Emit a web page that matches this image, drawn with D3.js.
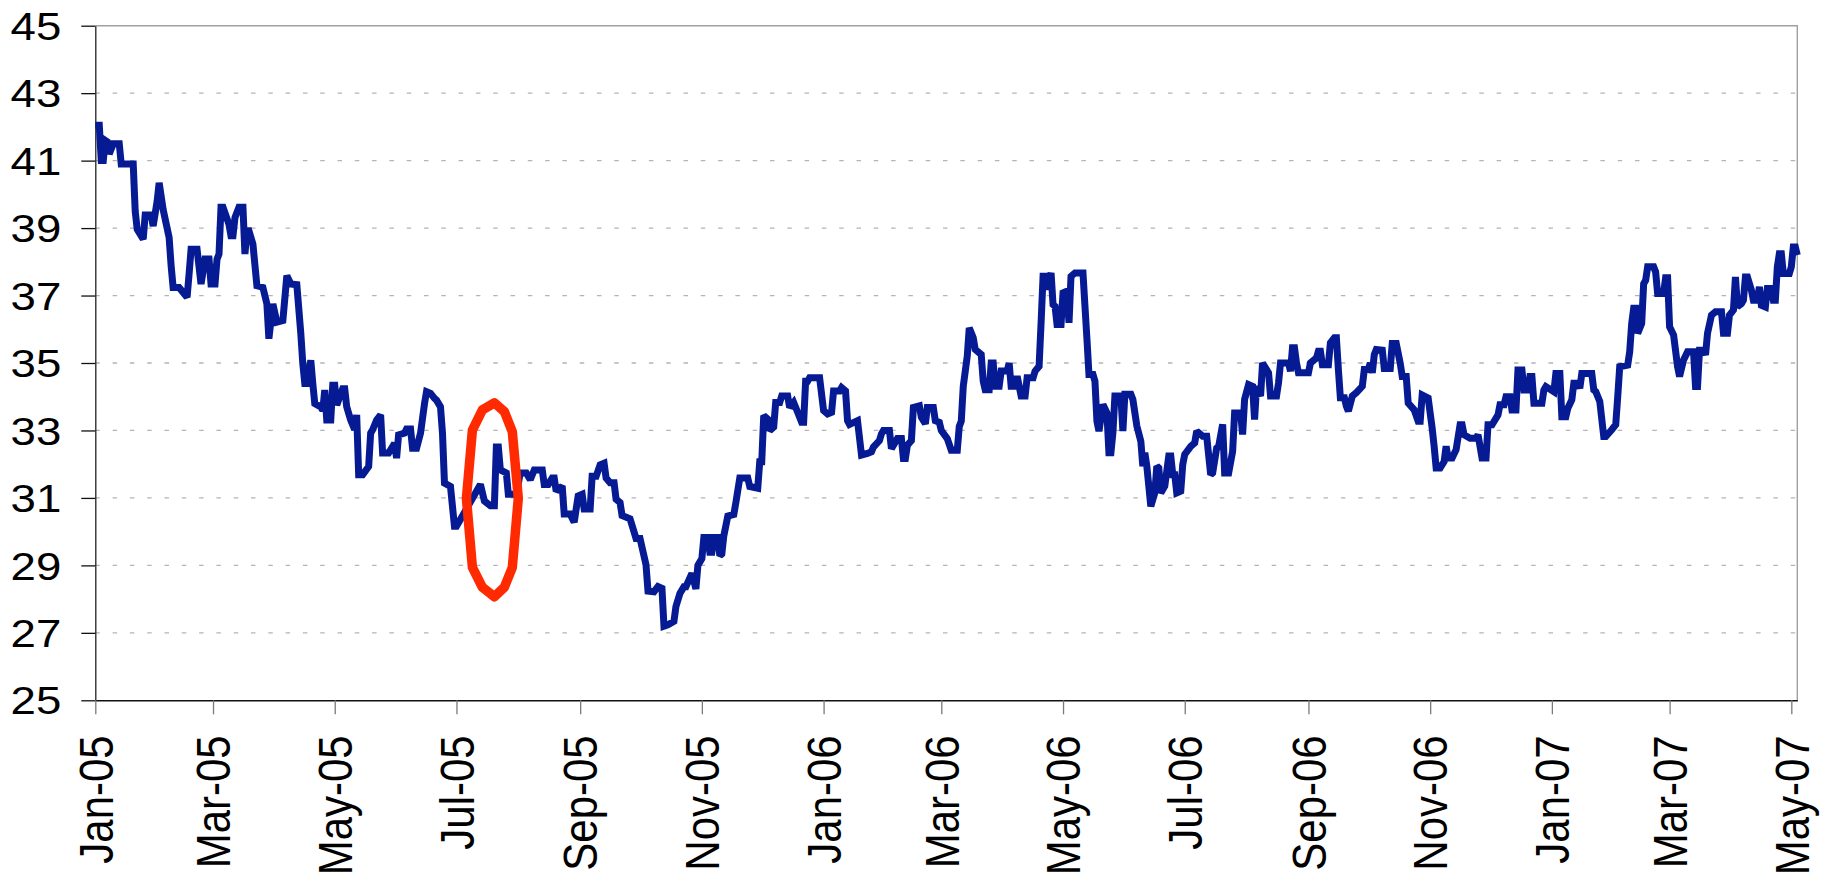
<!DOCTYPE html>
<html>
<head>
<meta charset="utf-8">
<script src="https://cdn.jsdelivr.net/npm/d3@7"></script>
<style>
  body { margin: 0; background: #fff; }
  #wrapper { width: 1829px; height: 885px; }
  text { font-family: "Liberation Sans", Arial, sans-serif; fill: #000; }
</style>
</head>
<body>
<div id="wrapper"></div>
<script>
// data, one line per month

const dates = [
  "2005-01-01","2005-01-03","2005-01-04","2005-01-05","2005-01-06","2005-01-07","2005-01-08","2005-01-10","2005-01-13","2005-01-14","2005-01-20","2005-01-21","2005-01-22","2005-01-25","2005-01-26","2005-01-29","2005-01-30",
  "2005-02-01","2005-02-02","2005-02-04","2005-02-07","2005-02-08","2005-02-09","2005-02-12","2005-02-16","2005-02-17","2005-02-18","2005-02-21","2005-02-23","2005-02-25","2005-02-27","2005-02-28",
  "2005-03-02","2005-03-03","2005-03-04","2005-03-05","2005-03-06","2005-03-09","2005-03-10","2005-03-11","2005-03-12","2005-03-14","2005-03-16","2005-03-17","2005-03-18","2005-03-19","2005-03-21","2005-03-23","2005-03-26","2005-03-28","2005-03-29","2005-03-31",
  "2005-04-02","2005-04-05","2005-04-07","2005-04-09","2005-04-12","2005-04-14","2005-04-15","2005-04-16","2005-04-17","2005-04-19","2005-04-20","2005-04-21","2005-04-24","2005-04-25","2005-04-26","2005-04-27","2005-04-29","2005-04-30",
  "2005-05-01","2005-05-02","2005-05-05","2005-05-06","2005-05-07","2005-05-09","2005-05-11","2005-05-12","2005-05-13","2005-05-15","2005-05-18","2005-05-19","2005-05-20","2005-05-22","2005-05-24","2005-05-25","2005-05-28","2005-05-31",
  "2005-06-01","2005-06-02","2005-06-05","2005-06-06","2005-06-08","2005-06-09","2005-06-11","2005-06-13","2005-06-15","2005-06-16","2005-06-18","2005-06-20","2005-06-21","2005-06-23","2005-06-24","2005-06-25","2005-06-28","2005-06-30",
  "2005-07-01","2005-07-05","2005-07-13","2005-07-15","2005-07-18","2005-07-20","2005-07-21","2005-07-22","2005-07-23","2005-07-26","2005-07-27","2005-07-31",
  "2005-08-02","2005-08-05","2005-08-07","2005-08-09","2005-08-13","2005-08-14","2005-08-16","2005-08-18","2005-08-19","2005-08-20","2005-08-23","2005-08-24","2005-08-27","2005-08-29","2005-08-31",
  "2005-09-02","2005-09-03","2005-09-06","2005-09-07","2005-09-09","2005-09-11","2005-09-13","2005-09-14","2005-09-16","2005-09-18","2005-09-19","2005-09-21","2005-09-22","2005-09-26","2005-09-29",
  "2005-10-01","2005-10-04","2005-10-05","2005-10-08","2005-10-10","2005-10-12","2005-10-13","2005-10-15","2005-10-18","2005-10-19","2005-10-21","2005-10-23","2005-10-24","2005-10-27","2005-10-29","2005-10-30",
  "2005-11-01","2005-11-02","2005-11-04","2005-11-05","2005-11-06","2005-11-07","2005-11-09","2005-11-10","2005-11-11","2005-11-12","2005-11-14","2005-11-17","2005-11-18","2005-11-20","2005-11-24","2005-11-25","2005-11-29","2005-11-30",
  "2005-12-01","2005-12-02","2005-12-04","2005-12-05","2005-12-07","2005-12-08","2005-12-10","2005-12-11","2005-12-14","2005-12-15","2005-12-17","2005-12-19","2005-12-21","2005-12-22","2005-12-23","2005-12-24","2005-12-25","2005-12-30",
  "2006-01-01","2006-01-03","2006-01-05","2006-01-06","2006-01-09","2006-01-10","2006-01-12","2006-01-13","2006-01-14","2006-01-18","2006-01-20","2006-01-23","2006-01-25","2006-01-26","2006-01-29","2006-01-30","2006-01-31",
  "2006-02-03","2006-02-04","2006-02-07","2006-02-09","2006-02-10","2006-02-11","2006-02-12","2006-02-14","2006-02-15","2006-02-18","2006-02-19","2006-02-21","2006-02-22","2006-02-25","2006-02-26","2006-02-28",
  "2006-03-01","2006-03-04","2006-03-06","2006-03-09","2006-03-10","2006-03-11","2006-03-12","2006-03-14","2006-03-15","2006-03-17","2006-03-18","2006-03-21","2006-03-22","2006-03-23","2006-03-25","2006-03-26","2006-03-27","2006-03-28","2006-03-30","2006-03-31",
  "2006-04-03","2006-04-04","2006-04-05","2006-04-07","2006-04-08","2006-04-10","2006-04-12","2006-04-13","2006-04-16","2006-04-17","2006-04-19","2006-04-20","2006-04-21","2006-04-22","2006-04-23","2006-04-25","2006-04-26","2006-04-27","2006-04-28","2006-04-30",
  "2006-05-01","2006-05-03","2006-05-04","2006-05-05","2006-05-07","2006-05-11","2006-05-12","2006-05-13","2006-05-14","2006-05-16","2006-05-17","2006-05-18","2006-05-19","2006-05-21","2006-05-23","2006-05-24","2006-05-25","2006-05-26","2006-05-27","2006-05-30","2006-05-31",
  "2006-06-01","2006-06-04","2006-06-05","2006-06-07","2006-06-09","2006-06-10","2006-06-11","2006-06-12","2006-06-14","2006-06-16","2006-06-17","2006-06-18","2006-06-19","2006-06-21","2006-06-23","2006-06-24","2006-06-25","2006-06-26","2006-06-27","2006-06-29","2006-06-30",
  "2006-07-01","2006-07-04","2006-07-06","2006-07-07","2006-07-10","2006-07-12","2006-07-14","2006-07-15","2006-07-17","2006-07-18","2006-07-20","2006-07-21","2006-07-23","2006-07-25","2006-07-26","2006-07-29","2006-07-30","2006-07-31",
  "2006-08-02","2006-08-04","2006-08-05","2006-08-06","2006-08-08","2006-08-09","2006-08-12","2006-08-13","2006-08-16","2006-08-17","2006-08-18","2006-08-22","2006-08-23","2006-08-24","2006-08-25","2006-08-26","2006-08-27",
  "2006-09-01","2006-09-02","2006-09-05","2006-09-06","2006-09-07","2006-09-08","2006-09-11","2006-09-12","2006-09-14","2006-09-15","2006-09-16","2006-09-17","2006-09-19","2006-09-20","2006-09-21","2006-09-23","2006-09-25","2006-09-28","2006-09-29",
  "2006-10-01","2006-10-02","2006-10-03","2006-10-04","2006-10-05","2006-10-08","2006-10-09","2006-10-12","2006-10-13","2006-10-15","2006-10-17","2006-10-18","2006-10-20","2006-10-21","2006-10-24","2006-10-26","2006-10-27","2006-10-28","2006-10-31",
  "2006-11-02","2006-11-03","2006-11-04","2006-11-06","2006-11-08","2006-11-09","2006-11-10","2006-11-12","2006-11-14","2006-11-16","2006-11-17","2006-11-18","2006-11-21","2006-11-24","2006-11-25","2006-11-27","2006-11-29","2006-11-30",
  "2006-12-02","2006-12-05","2006-12-06","2006-12-08","2006-12-09","2006-12-11","2006-12-12","2006-12-14","2006-12-15","2006-12-17","2006-12-18","2006-12-20","2006-12-21","2006-12-22","2006-12-23","2006-12-27","2006-12-28","2006-12-29",
  "2007-01-02","2007-01-03","2007-01-05","2007-01-06","2007-01-08","2007-01-09","2007-01-11","2007-01-12","2007-01-14","2007-01-15","2007-01-16","2007-01-21","2007-01-22","2007-01-23","2007-01-25","2007-01-27","2007-01-28","2007-01-31",
  "2007-02-02","2007-02-03","2007-02-04","2007-02-08","2007-02-09","2007-02-10","2007-02-11","2007-02-12","2007-02-13","2007-02-15","2007-02-16","2007-02-17","2007-02-18","2007-02-21","2007-02-22","2007-02-23","2007-02-26","2007-02-27","2007-02-28",
  "2007-03-01","2007-03-03","2007-03-05","2007-03-06","2007-03-08","2007-03-10","2007-03-13","2007-03-14","2007-03-15","2007-03-16","2007-03-18","2007-03-19","2007-03-20","2007-03-22","2007-03-24","2007-03-27","2007-03-28","2007-03-30","2007-03-31",
  "2007-04-02","2007-04-03","2007-04-04","2007-04-06","2007-04-07","2007-04-08","2007-04-09","2007-04-11","2007-04-12","2007-04-14","2007-04-15","2007-04-16","2007-04-18","2007-04-19","2007-04-21","2007-04-22","2007-04-23","2007-04-24","2007-04-25","2007-04-26","2007-04-27","2007-04-30",
  "2007-05-01","2007-05-02","2007-05-03","2007-05-04"
];

const prices = [
  42.05,42.05,41.0,41.0,41.6,41.56,41.2,41.5,41.5,40.9,40.9,39.5,38.96,38.67,39.39,39.39,39.06,
  39.8,40.34,39.55,38.72,37.88,37.24,37.24,36.95,37.64,38.37,38.37,37.34,38.08,38.08,37.34,
  37.34,38.08,38.23,39.62,39.62,39.11,38.77,38.77,39.31,39.62,39.62,38.23,38.92,38.92,38.52,37.29,37.24,36.75,35.72,36.75,
  36.21,36.26,37.59,37.34,37.32,35.87,34.98,34.39,34.39,35.08,34.39,33.8,33.7,33.6,34.2,33.31,33.31,34.34,
  34.34,33.75,34.24,34.24,33.7,33.31,33.02,33.46,31.69,31.69,31.93,32.92,33.02,33.31,33.46,32.33,32.33,32.62,
  32.18,32.87,32.92,33.04,33.04,32.47,32.47,32.92,33.8,34.15,34.1,33.95,33.9,33.7,32.92,31.44,31.34,30.16,
  30.16,30.57,31.4,30.91,30.77,30.77,32.51,32.51,31.83,31.74,31.11,31.11,
  31.74,31.74,31.54,31.83,31.83,31.4,31.4,31.59,31.59,31.2,31.35,30.52,30.52,30.28,31.06,
  31.11,30.67,30.67,31.64,31.64,31.98,32.03,31.59,31.45,31.45,30.96,30.86,30.48,30.38,29.8,
  29.8,29.02,28.24,28.22,28.37,28.32,27.2,27.24,27.34,27.78,28.17,28.37,28.37,28.76,28.3,29.0,
  29.2,29.83,29.83,29.39,29.39,29.83,29.83,29.29,29.34,29.88,30.46,30.51,30.85,31.59,31.59,31.34,31.29,32.07,
  32.07,33.44,33.34,33.0,33.1,33.83,33.83,34.02,34.02,33.68,33.83,33.54,33.24,33.24,34.46,34.46,34.56,34.56,
  33.59,33.49,33.54,34.17,34.17,34.27,34.17,33.29,33.18,33.29,32.27,32.32,32.37,32.51,32.7,32.9,33.0,
  33.0,32.46,32.76,32.76,32.17,32.17,32.56,32.7,33.68,33.73,33.39,33.2,33.68,33.68,33.29,33.24,
  33.0,32.76,32.41,32.41,33.12,33.27,34.31,35.2,36.04,35.75,35.4,35.25,34.46,34.21,34.21,35.0,35.0,34.31,34.31,34.76,
  34.76,35.0,34.31,34.31,34.61,34.02,34.02,34.56,34.56,34.76,34.9,36.19,37.57,37.57,37.18,37.67,36.73,36.68,36.14,36.14,
  37.08,37.13,36.19,37.57,37.67,37.67,36.68,35.7,34.66,34.66,34.46,33.27,32.98,33.77,33.52,32.34,32.34,32.93,34.02,34.02,32.98,
  34.07,34.07,33.92,33.13,32.68,31.94,32.34,31.94,30.75,31.15,31.94,31.89,31.15,31.35,32.24,32.24,31.69,31.69,31.15,31.2,31.99,
  32.29,32.53,32.63,32.98,32.83,32.83,31.69,31.74,32.48,32.53,33.18,31.74,31.74,32.38,33.52,33.52,32.88,33.92,
  34.36,34.31,33.32,34.31,34.02,35.0,34.71,34.02,34.02,34.41,35.0,35.0,34.76,35.45,35.45,35.0,34.71,
  34.71,35.0,35.15,35.35,35.35,34.95,34.95,35.6,35.75,35.75,34.81,33.97,33.97,33.72,33.57,34.02,34.12,34.31,34.81,
  34.81,35.0,34.71,35.25,35.4,35.38,34.84,34.84,35.58,35.58,34.99,34.6,34.6,33.81,33.61,33.27,33.27,34.05,33.96,
  33.07,32.53,31.89,31.89,32.08,32.53,32.18,32.18,32.43,33.17,33.17,32.87,32.77,32.77,32.87,32.18,32.18,33.17,
  33.17,33.46,33.76,33.76,34.0,34.0,33.61,33.61,34.79,34.79,34.2,34.2,34.6,34.6,33.81,33.81,34.2,34.3,
  34.15,34.69,34.69,33.41,33.41,33.66,33.91,34.4,34.4,34.25,34.69,34.69,34.2,34.15,33.86,32.82,32.82,33.02,
  33.17,34.0,34.89,34.94,35.33,36.17,36.62,36.62,35.88,36.17,37.35,37.45,37.85,37.85,37.7,37.06,37.06,37.53,37.53,
  36.07,35.83,34.89,34.6,35.09,35.33,35.33,34.3,34.3,35.38,35.38,35.24,35.88,36.42,36.52,36.52,35.88,35.88,36.42,
  36.57,37.55,36.67,36.76,36.86,37.55,37.55,37.16,36.86,36.86,37.26,36.71,36.66,37.21,37.21,36.86,36.86,37.85,38.24,38.24,37.65,37.65,
  37.85,38.44,38.44,38.2
];

const yTicks = [25, 27, 29, 31, 33, 35, 37, 39, 41, 43, 45];

const xTickLabels = [
  "Jan-05","Mar-05","May-05","Jul-05","Sep-05","Nov-05",
  "Jan-06","Mar-06","May-06","Jul-06","Sep-06","Nov-06",
  "Jan-07","Mar-07","May-07"
];

// red ring drawn round late July 2005
const ringDates = [
  "2005-07-20","2005-07-25","2005-07-29","2005-08-01","2005-07-29","2005-07-25",
  "2005-07-20","2005-07-14","2005-07-09","2005-07-06","2005-07-09","2005-07-14"
];
const ringValues = [33.82, 33.56, 32.96, 30.99, 28.94, 28.35, 28.07, 28.35, 28.94, 30.99, 33.01, 33.61];

function drawLineChart() {

  // access data

  const parseDate = d3.timeParse("%Y-%m-%d");
  const parseTick = d3.timeParse("%b-%y");

  const data = dates.map((d, i) => ({ date: parseDate(d), value: prices[i] }));
  const ring = ringDates.map((d, i) => ({ date: parseDate(d), value: ringValues[i] }));

  const xAccessor = d => d.date;
  const yAccessor = d => d.value;

  // create chart dimensions

  const dms = {
    width: 1829,
    height: 885,
    margins: {
      top: 25.7,
      right: 31.7,
      bottom: 184.7,
      left: 95.3
    }
  };

  dms.innerWidth = dms.width - dms.margins.left - dms.margins.right;
  dms.innerHeight = dms.height - dms.margins.top - dms.margins.bottom;

  // the source picture is stretched sideways, text included
  const stretchX = 1.17;

  // draw canvas

  const wrapper = d3.select("#wrapper")
    .append("svg")
      .attr("width", dms.width)
      .attr("height", dms.height);

  const inner = wrapper
    .append("g")
      .attr("transform", `translate(${dms.margins.left},${dms.margins.top})`);

  // create scales

  const xScale = d3
    .scaleTime()
    .domain(d3.extent(data, xAccessor))
    .range([0, dms.innerWidth]);

  const yScale = d3
    .scaleLinear()
    .domain(d3.extent(yTicks))
    .range([dms.innerHeight, 0]);

  // gridlines and frame

  inner
    .append("g")
    .selectAll("line")
    .data(yTicks.slice(1, -1))
    .join("line")
      .attr("x1", 0)
      .attr("x2", dms.innerWidth)
      .attr("y1", d => yScale(d))
      .attr("y2", d => yScale(d))
      .attr("stroke", "#b4b4b4")
      .attr("stroke-width", 1.3)
      .attr("stroke-dasharray", "4.5 12.8");

  inner
    .append("path")
      .attr("d", `M0,${yScale(45)}H${dms.innerWidth}V${dms.innerHeight}`)
      .attr("fill", "none")
      .attr("stroke", "#a0a0a0")
      .attr("stroke-width", 1.4);

  // draw peripherals

  const yAxis = inner
    .append("g")
    .call(d3.axisLeft(yScale)
      .tickValues(yTicks)
      .tickSize(14)
      .tickSizeOuter(0)
      .tickPadding(20));

  yAxis.select(".domain").attr("stroke", "#222").attr("stroke-width", 1.3);
  yAxis.selectAll(".tick line").attr("stroke", "#111").attr("stroke-width", 1.3);
  yAxis.selectAll(".tick text")
    .attr("font-size", 39)
    .attr("font-family", "'Liberation Sans', Arial, sans-serif")
    .attr("x", 0)
    .attr("dy", "0.35em")
    .attr("transform", `translate(-34,0) scale(${stretchX},1)`);

  const xAxis = inner
    .append("g")
    .attr("transform", `translate(0,${dms.innerHeight})`)
    .call(d3.axisBottom(xScale)
      .tickValues(xTickLabels.map(parseTick))
      .tickFormat(d3.timeFormat("%b-%y"))
      .tickSize(14)
      .tickSizeOuter(0));

  xAxis.select(".domain").attr("stroke", "#111").attr("stroke-width", 1.4);
  xAxis.selectAll(".tick line").attr("stroke", "#7a7a7a").attr("stroke-width", 1.3);
  xAxis.selectAll(".tick text")
    .attr("font-size", 42)
    .attr("font-family", "'Liberation Sans', Arial, sans-serif")
    .attr("text-anchor", "end")
    .attr("transform", `scale(${stretchX - 0.03},1) rotate(-90)`)
    .attr("x", -35)
    .attr("y", 0)
    .attr("dy", "0.35em");

  // draw data

  const lineGenerator = d3
    .line()
    .x(d => xScale(xAccessor(d)))
    .y(d => yScale(yAccessor(d)));

  inner
    .append("path")
      .attr("d", lineGenerator(data))
      .attr("fill", "none")
      .attr("stroke", "#061a94")
      .attr("stroke-width", 7)
      .attr("stroke-linejoin", "miter")
      .attr("stroke-miterlimit", 2);

  const ringGenerator = d3
    .line()
    .x(d => xScale(xAccessor(d)))
    .y(d => yScale(yAccessor(d)))
    .curve(d3.curveLinearClosed);

  inner
    .append("path")
      .attr("d", ringGenerator(ring))
      .attr("fill", "none")
      .attr("stroke", "#ff2a00")
      .attr("stroke-width", 9.5)
      .attr("stroke-linejoin", "round");
}

drawLineChart();
</script>
</body>
</html>
